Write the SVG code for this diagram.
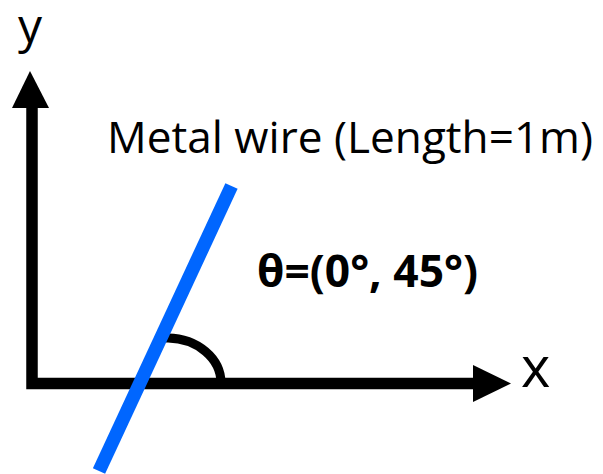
<svg xmlns="http://www.w3.org/2000/svg" width="603" height="474" viewBox="0 0 603 474">
<style>
.axis{fill:none;stroke:#000;stroke-width:11.5;stroke-linejoin:miter}
.head{fill:#000}
.lbl{font-family:"Open Sans","Liberation Sans",sans-serif;fill:#000}
</style>
<rect width="603" height="474" fill="#fff"/>
<g id="axes">
<path class="axis" d="M32,107 V383.5 H474"/>
<polygon class="head" points="30,71 12,108 49,108"/>
<polygon class="head" points="511,383.5 473,365 473,402"/>
</g>
<g id="angle-arc">
<path d="M162,338 L168,338 A54,45 0 0 1 221,383" fill="none" stroke="#000" stroke-width="9"/>
</g>
<g id="wire">
<line x1="231.5" y1="186" x2="99" y2="471" stroke="#0066FF" stroke-width="13.5"/>
</g>
<g id="labels">
<text class="lbl" x="18" y="43" font-size="48">y</text>
<text class="lbl" x="521" y="387" font-size="56">x</text>
<text class="lbl" x="107" y="153" font-size="43" textLength="486" lengthAdjust="spacingAndGlyphs">Metal wire (Length=1m)</text>
<text class="lbl" x="257" y="287" font-size="45" font-weight="bold" textLength="221" lengthAdjust="spacingAndGlyphs">θ=(0°, 45°)</text>
</g>
</svg>
